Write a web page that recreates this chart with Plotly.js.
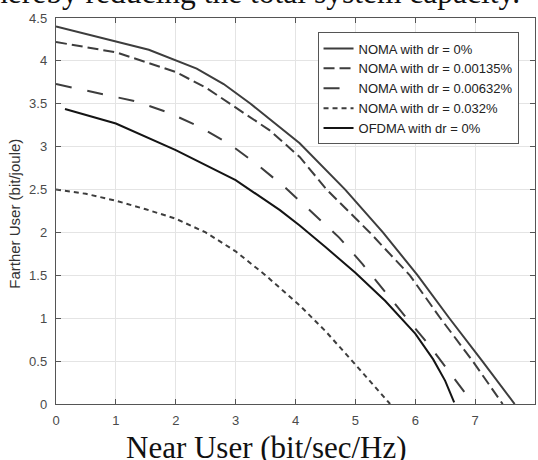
<!DOCTYPE html>
<html>
<head>
<meta charset="utf-8">
<script src="https://cdn.plot.ly/plotly-3.0.1.min.js"></script>
<style>html,body{margin:0;padding:0;background:#fff}#chart{width:538px;height:460px}</style>
</head>
<body>
<div id="chart"></div>
<script>
// Series data
const seriesNames = ["NOMA with dr = 0%", "NOMA with dr = 0.00135%", "NOMA with dr = 0.00632%", "NOMA with dr = 0.032%", "OFDMA with dr = 0%"];

const noma0X = [0, 1.55, 2.35, 2.8, 3.25, 3.6, 4.07, 4.83, 5.46, 6.04, 6.57, 7.12, 7.66];
const noma0Y = [4.40, 4.13, 3.91, 3.73, 3.50, 3.30, 3.04, 2.50, 2.00, 1.50, 1.00, 0.50, 0];

const noma1X = [0, 1.0, 1.57, 2.0, 2.5, 3.0, 3.57, 4.07, 4.52, 5.24, 5.91, 6.42, 6.96, 7.46];
const noma1Y = [4.22, 4.10, 3.97, 3.87, 3.69, 3.46, 3.19, 2.88, 2.50, 2.00, 1.50, 1.00, 0.50, 0];

const noma2X = [0, 0.72, 1.32, 1.87, 2.40, 2.90, 3.40, 3.85, 4.29, 4.73, 5.12, 5.49, 5.88, 6.25, 6.60, 6.97];
const noma2Y = [3.73, 3.62, 3.53, 3.40, 3.23, 3.03, 2.77, 2.51, 2.23, 1.94, 1.63, 1.31, 0.98, 0.67, 0.35, 0];

const noma3X = [0, 0.5, 1.0, 1.5, 2.0, 2.5, 3.0, 3.5, 4.07, 4.5, 5.0, 5.3, 5.58];
const noma3Y = [2.50, 2.45, 2.37, 2.27, 2.16, 2.00, 1.78, 1.50, 1.15, 0.85, 0.46, 0.22, 0];

const ofdmaX = [0.15, 1.0, 2.0, 3.0, 3.74, 4.07, 4.5, 5.0, 5.5, 6.0, 6.3, 6.5, 6.65];
const ofdmaY = [3.44, 3.27, 2.96, 2.61, 2.26, 2.08, 1.83, 1.53, 1.20, 0.82, 0.52, 0.27, 0.02];

const xTicks = [0, 1, 2, 3, 4, 5, 6, 7, 8];
const yTicks = [0, 0.5, 1, 1.5, 2, 2.5, 3, 3.5, 4, 4.5];
const yTickText = ["0", "0.5", "1", "1.5", "2", "2.5", "3", "3.5", "4", "4.5"];

const grey = "#3d3d3d";
const traces = [
  {x: noma0X, y: noma0Y, name: seriesNames[0], line: {color: grey, width: 2, dash: "solid"}},
  {x: noma1X, y: noma1Y, name: seriesNames[1], line: {color: grey, width: 2, dash: "11px,5px"}},
  {x: noma2X, y: noma2Y, name: seriesNames[2], line: {color: grey, width: 2, dash: "16px,16px"}},
  {x: noma3X, y: noma3Y, name: seriesNames[3], line: {color: grey, width: 2, dash: "5px,4px"}},
  {x: ofdmaX, y: ofdmaY, name: seriesNames[4], line: {color: "#141414", width: 2, dash: "solid"}}
].map(t => Object.assign({type: "scatter", mode: "lines"}, t));

const axisCommon = {
  showline: true, linecolor: "#555", linewidth: 1.2, mirror: "ticks",
  ticks: "inside", ticklen: 5, tickcolor: "#555",
  showgrid: true, gridcolor: "#e4e4e4", gridwidth: 1,
  zeroline: false,
  tickfont: {family: "Liberation Sans, Arial, sans-serif", size: 13, color: "#4a4a4a"}
};

const layout = {
  width: 538, height: 460,
  margin: {l: 56, r: 2.5, t: 17.5, b: 56},
  paper_bgcolor: "#fff", plot_bgcolor: "#fff",
  showlegend: true,
  legend: {
    x: 0.546, y: 0.9625, xanchor: "left", yanchor: "top",
    bgcolor: "#fff", bordercolor: "#555", borderwidth: 1,
    font: {family: "Liberation Sans, Arial, sans-serif", size: 13, color: "#222"},
    tracegroupgap: 0
  },
  xaxis: Object.assign({}, axisCommon, {range: [0, 8], tickvals: xTicks, ticktext: xTicks.map(String), ticklabelstandoff: 4}),
  yaxis: Object.assign({}, axisCommon, {range: [0, 4.5], tickvals: yTicks, ticktext: yTickText, ticklabelstandoff: 5}),
  annotations: [
    {text: "hereby reducing the total system capacity.", xref: "paper", yref: "paper",
     x: -0.138, y: 1.0165, xanchor: "left", yanchor: "bottom", showarrow: false,
     font: {family: "Liberation Serif, Times New Roman, serif", size: 31.5, color: "#111"}},
    {text: "Near User (bit/sec/Hz)", xref: "paper", yref: "paper",
     x: 0.44, y: -0.112, xanchor: "center", yanchor: "middle", showarrow: false,
     font: {family: "Liberation Serif, Times New Roman, serif", size: 31, color: "#111"}},
    {text: "Farther User (bit/joule)", xref: "paper", yref: "paper",
     x: -0.0855, y: 0.493, xanchor: "center", yanchor: "middle", showarrow: false, textangle: -90,
     font: {family: "Liberation Sans, Arial, sans-serif", size: 15, color: "#333"}}
  ]
};

Plotly.newPlot("chart", traces, layout, {staticPlot: true, displayModeBar: false});
</script>
</body>
</html>
